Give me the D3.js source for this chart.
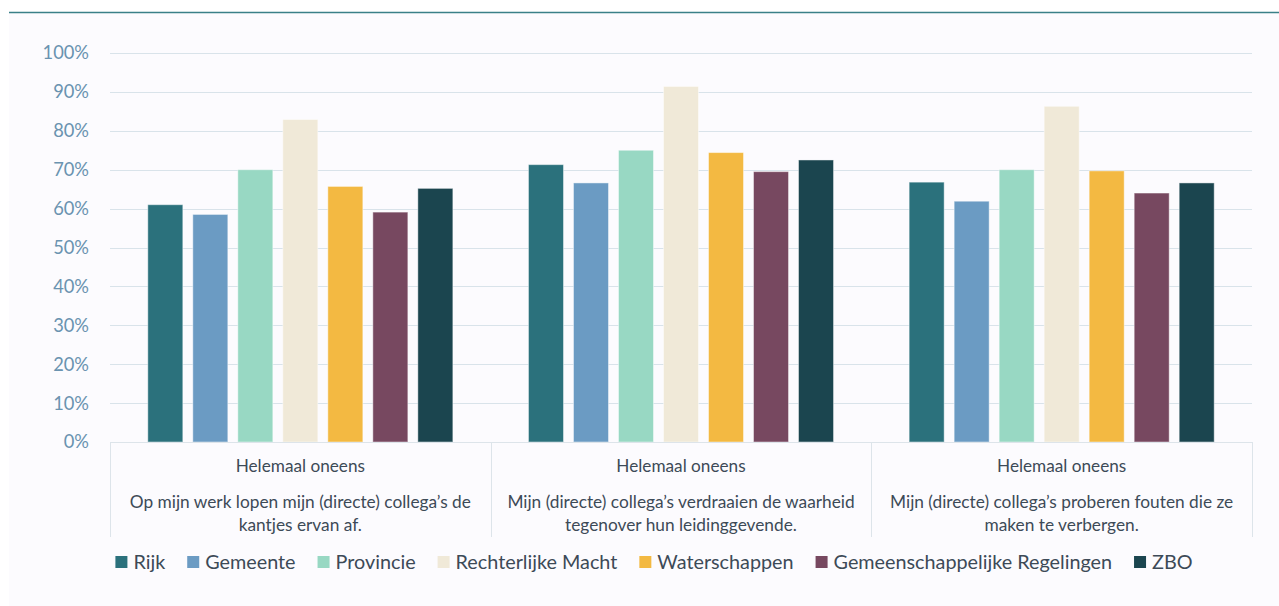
<!DOCTYPE html>
<html><head><meta charset="utf-8">
<script src="https://cdn.jsdelivr.net/npm/d3@7"></script>
<style>
html,body{margin:0;padding:0;background:#fff;}
svg{display:block;font-family:Lato, "Open Sans", sans-serif;}
</style></head>
<body>
<svg id="chart" width="1279" height="606"></svg>
<script>
const series = ["Rijk","Gemeente","Provincie","Rechterlijke Macht","Waterschappen","Gemeenschappelijke Regelingen","ZBO"];
const colors = ["#2b717c","#6b9bc3","#98d8c3","#f0e9d8","#f3b942","#774860","#1b454f"];
const categories = ["c1","c2","c3"];
const catTop = ["Helemaal oneens","Helemaal oneens","Helemaal oneens"];
const catLines = [
  ["Op mijn werk lopen mijn (directe) collega’s de","kantjes ervan af."],
  ["Mijn (directe) collega’s verdraaien de waarheid","tegenover hun leidinggevende."],
  ["Mijn (directe) collega’s proberen fouten die ze","maken te verbergen."]
];
const rijk = [0.61, 0.713, 0.668];
const gemeente = [0.585, 0.666, 0.619];
const provincie = [0.70, 0.75, 0.70];
const rechterlijk = [0.829, 0.914, 0.863];
const waterschappen = [0.657, 0.744, 0.697];
const gemRegelingen = [0.591, 0.695, 0.640];
const zbo = [0.652, 0.725, 0.666];
const yTicks = [0,0.1,0.2,0.3,0.4,0.5,0.6,0.7,0.8,0.9,1.0];

const values = [rijk, gemeente, provincie, rechterlijk, waterschappen, gemRegelingen, zbo];

const svg = d3.select("#chart");
svg.append("rect").attr("x",9).attr("y",13).attr("width",1270).attr("height",593).attr("fill","#fcfbfe");
svg.append("line").attr("x1",9).attr("x2",1279).attr("y1",12.5).attr("y2",12.5).attr("stroke","#3a8088").attr("stroke-width",1.5);

const pLeft=110, pRight=1252, pTop=53, pBottom=442;
const x0 = d3.scaleBand().domain(categories).range([pLeft,pRight]).paddingInner(0).paddingOuter(0);
const x1 = d3.scaleBand().domain(series).range([0,x0.bandwidth()]).paddingInner(0.222).paddingOuter(0.84);
const y = d3.scaleLinear().domain([0,1]).range([pBottom,pTop]);

svg.append("g").selectAll("line").data(yTicks.slice(1)).join("line")
  .attr("x1",pLeft).attr("x2",pRight)
  .attr("y1",d=>Math.round(y(d))+0.5).attr("y2",d=>Math.round(y(d))+0.5)
  .attr("stroke","#d9e3ea").attr("stroke-width",1);

svg.append("g").selectAll("text").data(yTicks).join("text")
  .attr("x",89).attr("y",d=>y(d)).attr("dy","0.35em")
  .attr("text-anchor","end").attr("fill","#6a93b0").attr("font-size",18.3)
  .text(d=>d3.format(".0%")(d));

const g = svg.append("g");
categories.forEach((c,ci)=>{
  series.forEach((s,si)=>{
    const v = values[si][ci];
    g.append("rect")
      .attr("x",x0(c)+x1(s)).attr("width",x1.bandwidth())
      .attr("y",y(v)).attr("height",y(0)-y(v))
      .attr("fill",colors[si]).attr("stroke","rgba(255,255,255,0.45)").attr("stroke-width",1);
  });
});

svg.append("line").attr("x1",pLeft).attr("x2",pRight).attr("y1",pBottom+0.5).attr("y2",pBottom+0.5).attr("stroke","#dde4ea");
const bounds = categories.map(c=>x0(c)).concat([pRight]);
svg.append("g").selectAll("line").data(bounds).join("line")
  .attr("x1",d=>Math.round(d)+0.5).attr("x2",d=>Math.round(d)+0.5)
  .attr("y1",pBottom).attr("y2",537).attr("stroke","#dde4ea");

categories.forEach((c,ci)=>{
  const cx = x0(c)+x0.bandwidth()/2;
  svg.append("text").attr("x",cx).attr("y",472).attr("text-anchor","middle")
    .attr("fill","#3d4a57").attr("font-size",17.2).text(catTop[ci]);
  catLines[ci].forEach((ln,li)=>{
    svg.append("text").attr("x",cx).attr("y",508+li*23).attr("text-anchor","middle")
      .attr("fill","#3d4a57").attr("font-size",17.3).text(ln);
  });
});

const lg = svg.append("g");
let items = [];
series.forEach((s,i)=>{
  const it = lg.append("g");
  it.append("rect").attr("x",0).attr("y",-6).attr("width",12).attr("height",12).attr("fill",colors[i]);
  const t = it.append("text").attr("x",18).attr("y",0).attr("dy","0.35em").attr("fill","#3d4a57").attr("font-size",19.8).text(s);
  items.push({g:it, w:18+t.node().getComputedTextLength()});
});
const gap = 22;
const total = d3.sum(items,d=>d.w)+gap*(items.length-1);
let lx = 654 - total/2;
items.forEach(it=>{ it.g.attr("transform",`translate(${lx},562)`); lx += it.w+gap; });
</script>
</body></html>
